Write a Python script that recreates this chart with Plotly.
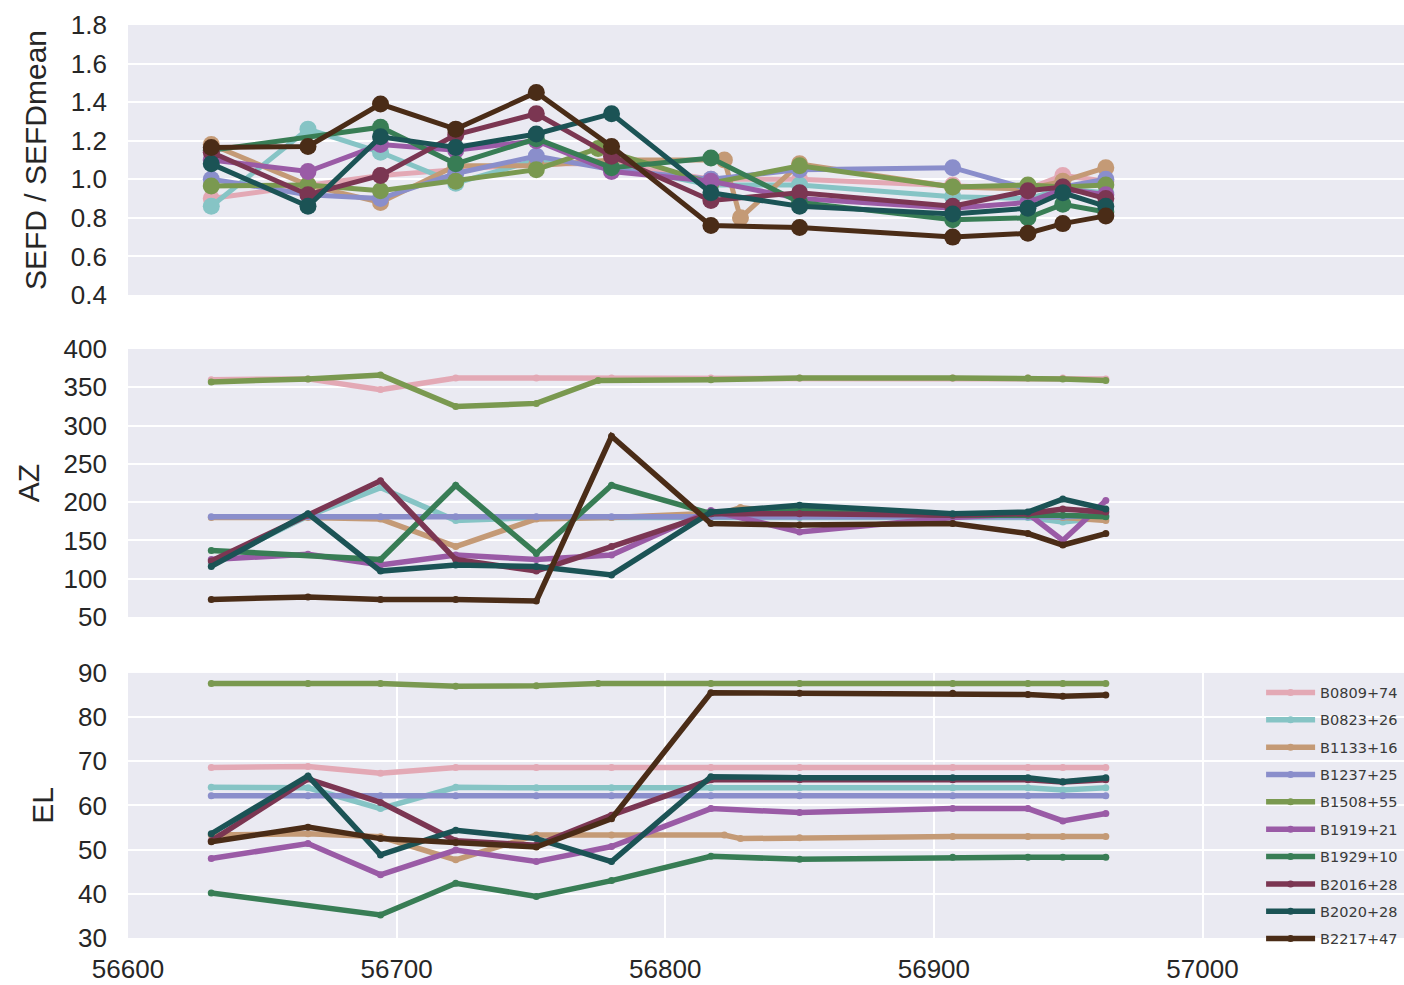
import plotly.graph_objects as go

# ---------------- data ----------------
SOURCES = ["B0809+74", "B0823+26", "B1133+16", "B1237+25", "B1508+55",
           "B1919+21", "B1929+10", "B2016+28", "B2020+28", "B2217+47"]
COLORS = ["#e3a9b5", "#86c4c5", "#c49a76", "#8a8ecb", "#7a9950",
          "#9a5ba6", "#387d55", "#7b3652", "#1b5355", "#4a2c17"]

DATES = [56631, 56667, 56694, 56722, 56752, 56780, 56817, 56850, 56907, 56935, 56948, 56964]
DATES_B1133 = [56631, 56667, 56694, 56722, 56752, 56780, 56822, 56828, 56850, 56907, 56935, 56948, 56964]
DATES_B1508 = [56631, 56667, 56694, 56722, 56752, 56775, 56817, 56850, 56907, 56935, 56948, 56964]
DATES_B1929 = [56631, 56694, 56722, 56752, 56780, 56817, 56850, 56907, 56935, 56948, 56964]

SEFD_B0809 = [0.90, 0.97, 1.02, 1.05, 1.08, 1.08, 1.00, 1.00, 0.97, 0.95, 1.02, 0.99]
SEFD_B0823 = [0.86, 1.26, 1.14, 0.98, 1.10, 1.07, 0.97, 0.97, 0.91, 0.90, 0.95, 0.93]
SEFD_B1133 = [1.18, 0.97, 0.88, 1.07, 1.07, 1.10, 1.10, 0.80, 1.08, 0.96, 0.95, 0.99, 1.06]
SEFD_B1237 = [1.00, 0.92, 0.90, 1.03, 1.12, 1.05, 1.00, 1.05, 1.06, 0.95, 0.96, 1.00]
SEFD_B1508 = [0.965, 0.97, 0.94, 0.99, 1.05, 1.16, 0.98, 1.07, 0.96, 0.97, 0.96, 0.97]
SEFD_B1919 = [1.10, 1.04, 1.18, 1.15, 1.20, 1.04, 0.99, 0.90, 0.85, 0.88, 0.95, 0.92]
SEFD_B1929 = [1.15, 1.27, 1.08, 1.21, 1.06, 1.11, 0.88, 0.79, 0.80, 0.87, 0.83]
SEFD_B2016 = [1.14, 0.92, 1.02, 1.23, 1.34, 1.12, 0.89, 0.93, 0.86, 0.94, 0.96, 0.90]
SEFD_B2020 = [1.08, 0.86, 1.22, 1.165, 1.235, 1.34, 0.93, 0.86, 0.82, 0.85, 0.93, 0.86]
SEFD_B2217 = [1.165, 1.17, 1.39, 1.26, 1.45, 1.17, 0.76, 0.75, 0.70, 0.72, 0.77, 0.81]

AZ_B0809 = [360, 361, 347, 362, 362, 362, 362, 362, 362, 362, 362, 361]
AZ_B0823 = [120, 182, 219, 176, 180, 180, 180, 180, 180, 180, 174, 180]
AZ_B1133 = [180, 180, 178, 142, 178, 180, 186, 193, 183, 183, 183, 180, 176]
AZ_B1237 = [181, 181, 181, 181, 181, 181, 181, 181, 181, 181, 181, 183]
AZ_B1508 = [357, 361, 366, 325, 329, 359, 360, 362, 362, 362, 361, 359]
AZ_B1919 = [125, 132, 118, 131, 125, 131, 189, 161, 180, 185, 150, 202]
AZ_B1929 = [137, 125, 222, 133, 222, 185, 190, 183, 183, 183, 181]
AZ_B2016 = [123, 183, 228, 125, 110, 142, 185, 185, 183, 185, 191, 187]
AZ_B2020 = [116, 185, 110, 118, 116, 105, 187, 196, 185, 187, 204, 191]
AZ_B2217 = [73, 76, 73, 73, 71, 286, 172, 170, 172, 159, 144, 159]

EL_B0809 = [68.6, 68.8, 67.3, 68.6, 68.6, 68.6, 68.6, 68.6, 68.6, 68.6, 68.6, 68.6]
EL_B0823 = [64.1, 64.0, 59.3, 64.1, 64.0, 64.0, 64.0, 64.0, 64.0, 64.0, 63.5, 64.0]
EL_B1133 = [53.3, 53.6, 52.9, 47.7, 53.3, 53.3, 53.3, 52.5, 52.7, 53.0, 53.0, 53.0, 53.0]
EL_B1237 = [62.2, 62.2, 62.2, 62.2, 62.2, 62.2, 62.2, 62.2, 62.2, 62.2, 62.2, 62.2]
EL_B1508 = [87.6, 87.6, 87.6, 87.0, 87.1, 87.6, 87.6, 87.6, 87.6, 87.6, 87.6, 87.6]
EL_B1919 = [48.0, 51.4, 44.3, 49.9, 47.3, 50.7, 59.3, 58.4, 59.3, 59.3, 56.5, 58.2]
EL_B1929 = [40.2, 35.2, 42.4, 39.4, 43.0, 48.5, 47.8, 48.3, 48.3, 48.3, 48.3]
EL_B2016 = [52.0, 66.0, 60.7, 52.0, 51.0, 57.8, 65.8, 65.8, 65.8, 65.8, 65.3, 65.8]
EL_B2020 = [53.6, 66.7, 48.8, 54.4, 52.5, 47.3, 66.5, 66.3, 66.3, 66.3, 65.4, 66.3]
EL_B2217 = [51.8, 55.1, 52.5, 51.6, 50.6, 57.0, 85.5, 85.4, 85.4, 85.1, 84.7, 85.0]

X_TICKS = [56600, 56700, 56800, 56900, 57000]
SEFD_TICKS = [0.4, 0.6, 0.8, 1.0, 1.2, 1.4, 1.6, 1.8]
AZ_TICKS = [50, 100, 150, 200, 250, 300, 350, 400]
EL_TICKS = [30, 40, 50, 60, 70, 80, 90]

SERIES_DATES = [DATES, DATES, DATES_B1133, DATES, DATES_B1508,
                DATES, DATES_B1929, DATES, DATES, DATES]
SERIES_SEFD = [SEFD_B0809, SEFD_B0823, SEFD_B1133, SEFD_B1237, SEFD_B1508,
               SEFD_B1919, SEFD_B1929, SEFD_B2016, SEFD_B2020, SEFD_B2217]
SERIES_AZ = [AZ_B0809, AZ_B0823, AZ_B1133, AZ_B1237, AZ_B1508,
             AZ_B1919, AZ_B1929, AZ_B2016, AZ_B2020, AZ_B2217]
SERIES_EL = [EL_B0809, EL_B0823, EL_B1133, EL_B1237, EL_B1508,
             EL_B1919, EL_B1929, EL_B2016, EL_B2020, EL_B2217]

# ---------------- figure ----------------
FONT = "Liberation Sans, Arial, sans-serif"
TXT = "#262626"
BG = "#EAEAF2"

fig = go.Figure()
for name, col, d, s, a, e in zip(SOURCES, COLORS, SERIES_DATES, SERIES_SEFD, SERIES_AZ, SERIES_EL):
    fig.add_trace(go.Scatter(x=d, y=s, mode="lines+markers", name=name, legendgroup=name,
                             showlegend=False, xaxis="x", yaxis="y",
                             line=dict(color=col, width=5),
                             marker=dict(color=col, size=17)))
    fig.add_trace(go.Scatter(x=d, y=a, mode="lines+markers", name=name, legendgroup=name,
                             showlegend=False, xaxis="x2", yaxis="y2",
                             line=dict(color=col, width=5.5),
                             marker=dict(color=col, size=7)))
    fig.add_trace(go.Scatter(x=d, y=e, mode="lines+markers", name=name, legendgroup=name,
                             showlegend=True, xaxis="x3", yaxis="y3",
                             line=dict(color=col, width=5.5),
                             marker=dict(color=col, size=7)))

xcommon = dict(range=[56600, 57075], showline=False, zeroline=False, automargin=False,
               tickfont=dict(family=FONT, size=26, color=TXT))
ycommon = dict(showline=False, zeroline=False, automargin=False,
               gridcolor="white", gridwidth=2,
               tickfont=dict(family=FONT, size=26, color=TXT), ticklabelstandoff=20,
               title_font=dict(family=FONT, size=30, color=TXT))

fig.update_layout(
    width=1404, height=985,
    margin=dict(l=128, r=0, t=25, b=47),
    paper_bgcolor="white", plot_bgcolor=BG,
    font=dict(family=FONT, color=TXT),
    xaxis=dict(anchor="y", domain=[0, 1], showgrid=False, showticklabels=False,
               matches="x3", **xcommon),
    xaxis2=dict(anchor="y2", domain=[0, 1], showgrid=False, showticklabels=False,
                matches="x3", **xcommon),
    xaxis3=dict(anchor="y3", domain=[0, 1], showgrid=True, gridcolor="white", gridwidth=2,
                tickvals=X_TICKS, ticktext=[str(v) for v in X_TICKS],
                ticklabelstandoff=13, **xcommon),
    yaxis=dict(domain=[0.7043, 1.0], range=[0.4, 1.8], tickvals=SEFD_TICKS,
               ticktext=[f"{v:.1f}" for v in SEFD_TICKS],
               title_text="SEFD / SEFDmean", **ycommon),
    yaxis2=dict(domain=[0.3516, 0.6451], range=[50, 400], tickvals=AZ_TICKS,
                title_text="AZ", **ycommon),
    yaxis3=dict(domain=[0.0, 0.2903], range=[30, 90], tickvals=EL_TICKS,
                title_text="EL", **ycommon),
    legend=dict(x=0.888, y=0.2864, xanchor="left", yanchor="top",
                bgcolor="rgba(0,0,0,0)", tracegroupgap=5.5, itemwidth=49,
                font=dict(family="DejaVu Sans, sans-serif", size=14.5, color="#3a3a3a")),
)

fig.write_html("out.html",
               config={"displayModeBar": False},
               post_script="document.body.style.margin='0px';"
                           "document.body.style.overflow='hidden';")
